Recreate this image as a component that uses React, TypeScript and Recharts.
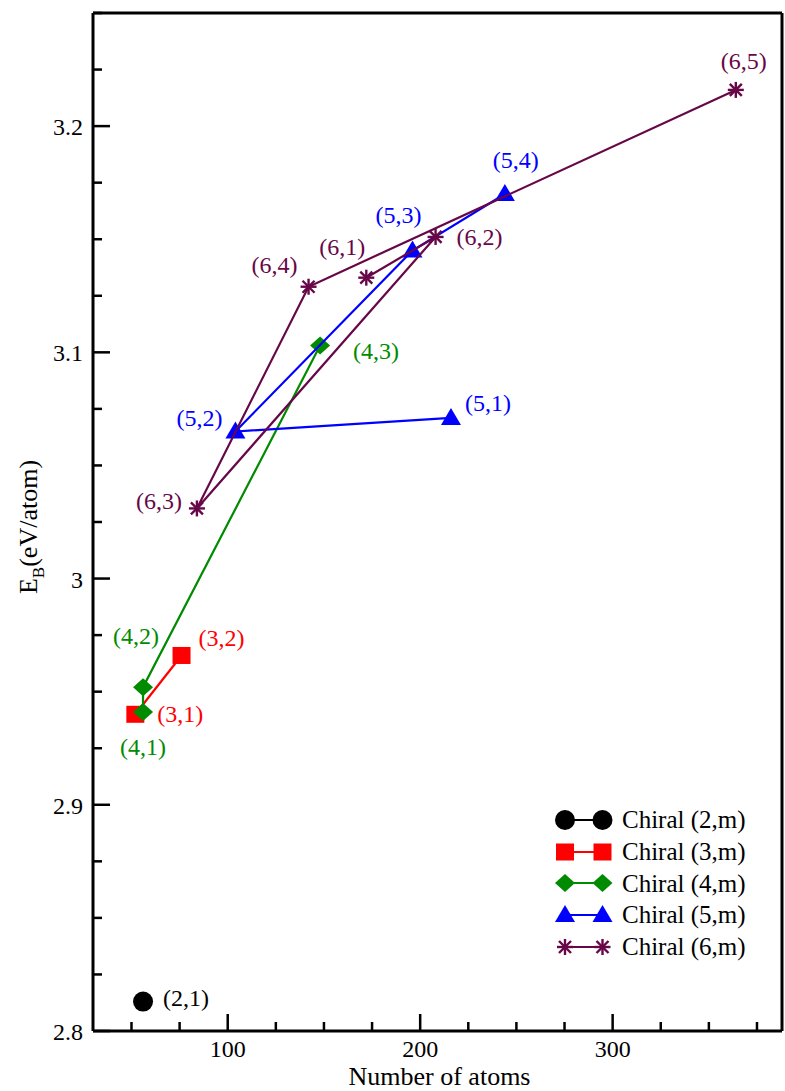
import { ScatterChart, Scatter, XAxis, YAxis, Legend } from "recharts";

const SERIF = "Liberation Serif, Tinos, Times New Roman, DejaVu Serif, serif";

// Chiral (2,m)
const names2 = ["(2,1)"];
const atoms2 = [56];
const eb2 = [2.813];
// Chiral (3,m)
const names3 = ["(3,1)", "(3,2)"];
const atoms3 = [52, 76];
const eb3 = [2.94, 2.966];
// Chiral (4,m)
const names4 = ["(4,1)", "(4,2)", "(4,3)"];
const atoms4 = [56, 56, 148];
const eb4 = [2.941, 2.952, 3.103];
// Chiral (5,m)
const names5 = ["(5,1)", "(5,2)", "(5,3)", "(5,4)"];
const atoms5 = [216, 104, 196, 244];
const eb5 = [3.071, 3.065, 3.145, 3.17];
// Chiral (6,m)
const names6 = ["(6,1)", "(6,2)", "(6,3)", "(6,4)", "(6,5)"];
const atoms6 = [172, 208, 84, 142, 364];
const eb6 = [3.133, 3.151, 3.031, 3.129, 3.216];

const seriesNames = ["Chiral (2,m)", "Chiral (3,m)", "Chiral (4,m)", "Chiral (5,m)", "Chiral (6,m)"];

const xTicks = [50, 75, 100, 125, 150, 175, 200, 225, 250, 275, 300, 325, 350, 375];
const xTickLabels: Record<number, string> = { 100: "100", 200: "200", 300: "300" };
const yTicks = [
  2.8, 2.825, 2.85, 2.875, 2.9, 2.925, 2.95, 2.975, 3.0, 3.025, 3.05, 3.075, 3.1, 3.125,
  3.15, 3.175, 3.2, 3.225, 3.25,
];
const yTickLabels = [
  { v: 2.8, t: "2.8" },
  { v: 2.9, t: "2.9" },
  { v: 3.0, t: "3" },
  { v: 3.1, t: "3.1" },
  { v: 3.2, t: "3.2" },
];

// where each point's tag sits relative to its marker: dx, dy, anchor
const LABEL_POS: Record<string, [number, number, string]> = {
  "(2,1)": [20, -4, "start"],
  "(3,1)": [22, 0, "start"],
  "(3,2)": [17, -17, "start"],
  "(4,1)": [0, 35, "middle"],
  "(4,2)": [-7, -51, "middle"],
  "(4,3)": [33, 5, "start"],
  "(5,1)": [14, -15, "start"],
  "(5,2)": [-13, -14, "end"],
  "(5,3)": [-14, -36, "middle"],
  "(5,4)": [11, -34, "middle"],
  "(6,1)": [-24, -31, "middle"],
  "(6,2)": [21, 0, "start"],
  "(6,3)": [-15, -7, "end"],
  "(6,4)": [-11, -22, "end"],
  "(6,5)": [8, -29, "middle"],
};

const toPoints = (names: string[], atoms: number[], eb: number[]) =>
  names.map((name, i) => ({ name, atoms: atoms[i], eb: eb[i] }));

const SERIES = [
  { name: seriesNames[0], kind: "circle", color: "#000000", line: false, data: toPoints(names2, atoms2, eb2) },
  { name: seriesNames[1], kind: "square", color: "#ff0000", line: true, data: toPoints(names3, atoms3, eb3) },
  { name: seriesNames[2], kind: "diamond", color: "#008b00", line: true, data: toPoints(names4, atoms4, eb4) },
  { name: seriesNames[3], kind: "triangle", color: "#0000ff", line: true, data: toPoints(names5, atoms5, eb5) },
  { name: seriesNames[4], kind: "star", color: "#670748", line: true, data: toPoints(names6, atoms6, eb6) },
];

const Mark = ({ kind, color, cx, cy }: any) => {
  switch (kind) {
    case "circle":
      return <circle cx={cx} cy={cy} r={10} fill={color} />;
    case "square":
      return <rect x={cx - 9} y={cy - 8.5} width={18} height={17} fill={color} />;
    case "diamond":
      return (
        <polygon
          points={`${cx - 10},${cy} ${cx},${cy - 9} ${cx + 10},${cy} ${cx},${cy + 9}`}
          fill={color}
        />
      );
    case "triangle":
      return (
        <polygon
          points={`${cx - 10},${cy + 7} ${cx + 10},${cy + 7} ${cx},${cy - 10}`}
          fill={color}
        />
      );
    default:
      return (
        <g stroke={color} strokeWidth={2.4}>
          <line x1={cx - 8} y1={cy} x2={cx + 8} y2={cy} />
          <line x1={cx} y1={cy - 8} x2={cx} y2={cy + 8} />
          <line x1={cx - 6} y1={cy - 6} x2={cx + 6} y2={cy + 6} />
          <line x1={cx - 6} y1={cy + 6} x2={cx + 6} y2={cy - 6} />
        </g>
      );
  }
};

const pointShape = (kind: string, color: string) => (props: any) => {
  const { cx, cy, payload } = props;
  const pos = LABEL_POS[payload.name] || [15, 0, "start"];
  return (
    <g>
      <Mark kind={kind} color={color} cx={cx} cy={cy} />
      <text
        x={cx + pos[0]}
        y={cy + pos[1]}
        textAnchor={pos[2]}
        dominantBaseline="central"
        fill={color}
        style={{ fontFamily: SERIF, fontSize: 24 }}
      >
        {payload.name}
      </text>
    </g>
  );
};

const near = (a: number, b: number) => Math.abs(a - b) < 1e-6;

const BottomTick = (props: any) => {
  const { x, y, payload } = props;
  const label = xTickLabels[payload.value];
  return (
    <g>
      <line x1={x} y1={y} x2={x} y2={y - (label ? 17 : 9)} stroke="#000" strokeWidth={2.5} />
      {label && (
        <text x={x} y={y + 26} textAnchor="middle" fill="#000" style={{ fontFamily: SERIF, fontSize: 24 }}>
          {label}
        </text>
      )}
    </g>
  );
};

const TopTick = (props: any) => {
  const { x, y, payload } = props;
  const major = xTickLabels[payload.value];
  return <line x1={x} y1={y} x2={x} y2={y + (major ? 17 : 9)} stroke="#000" strokeWidth={2.5} />;
};

const LeftTick = (props: any) => {
  const { x, y, payload } = props;
  const lab = yTickLabels.find((l) => near(l.v, payload.value));
  return (
    <g>
      <line x1={x} y1={y} x2={x + (lab ? 17 : 9)} y2={y} stroke="#000" strokeWidth={2.5} />
      {lab && (
        <text
          x={x - 10}
          y={y + 1}
          textAnchor="end"
          dominantBaseline="central"
          fill="#000"
          style={{ fontFamily: SERIF, fontSize: 24 }}
        >
          {lab.t}
        </text>
      )}
    </g>
  );
};

const RightTick = (props: any) => {
  const { x, y, payload } = props;
  const major = yTickLabels.some((l) => near(l.v, payload.value));
  return <line x1={x} y1={y} x2={x - (major ? 17 : 9)} y2={y} stroke="#000" strokeWidth={2.5} />;
};

const XTitle = ({ viewBox }: any) => (
  <text
    x={viewBox.x + viewBox.width / 2 + 2}
    y={viewBox.y + 54}
    textAnchor="middle"
    fill="#000"
    style={{ fontFamily: SERIF, fontSize: 26 }}
  >
    Number of atoms
  </text>
);

const YTitle = ({ viewBox }: any) => {
  const cx = 37;
  const cy = viewBox.y + viewBox.height / 2 + 5;
  return (
    <text
      x={cx}
      y={cy}
      transform={`rotate(-90, ${cx}, ${cy})`}
      textAnchor="middle"
      fill="#000"
      style={{ fontFamily: SERIF, fontSize: 26 }}
    >
      E
      <tspan dy={7} style={{ fontSize: 17 }}>
        B
      </tspan>
      <tspan dy={-7}>(eV/atom)</tspan>
    </text>
  );
};

const LegendBox = () => (
  <div style={{ fontFamily: SERIF, fontSize: 25, color: "#000" }}>
    {SERIES.map((s) => (
      <div key={s.name} style={{ display: "flex", alignItems: "center", height: 31.7 }}>
        <svg width={62} height={26} style={{ display: "block" }}>
          <line x1={12} y1={13} x2={49.5} y2={13} stroke={s.color} strokeWidth={2} />
          <Mark kind={s.kind} color={s.color} cx={12} cy={13} />
          <Mark kind={s.kind} color={s.color} cx={49.5} cy={13} />
        </svg>
        <span style={{ marginLeft: 7, lineHeight: 1, whiteSpace: "nowrap" }}>{s.name}</span>
      </div>
    ))}
  </div>
);

export default function App() {
  return (
    <div style={{ position: "absolute", left: 0, top: 0, background: "#fff", fontFamily: SERIF }}>
      <ScatterChart width={785} height={1091} margin={{ top: 0, right: 0, bottom: 0, left: 0 }}>
        <XAxis
          type="number"
          dataKey="atoms"
          domain={[30, 388]}
          ticks={xTicks}
          interval={0}
          height={60}
          tickSize={0}
          tickMargin={0}
          tickLine={false}
          axisLine={{ stroke: "#000", strokeWidth: 3 }}
          tick={<BottomTick />}
          label={<XTitle />}
        />
        <XAxis
          xAxisId="top"
          orientation="top"
          type="number"
          domain={[30, 388]}
          ticks={xTicks}
          interval={0}
          height={13}
          tickSize={0}
          tickMargin={0}
          tickLine={false}
          axisLine={{ stroke: "#000", strokeWidth: 3 }}
          tick={<TopTick />}
        />
        <YAxis
          type="number"
          dataKey="eb"
          domain={[2.8, 3.25]}
          ticks={yTicks}
          interval={0}
          width={93}
          tickSize={0}
          tickMargin={0}
          tickLine={false}
          axisLine={{ stroke: "#000", strokeWidth: 3 }}
          tick={<LeftTick />}
          label={<YTitle />}
        />
        <YAxis
          yAxisId="right"
          orientation="right"
          type="number"
          domain={[2.8, 3.25]}
          ticks={yTicks}
          interval={0}
          width={3}
          tickSize={0}
          tickMargin={0}
          tickLine={false}
          axisLine={{ stroke: "#000", strokeWidth: 3 }}
          tick={<RightTick />}
        />
        <Legend
          layout="vertical"
          align="center"
          verticalAlign="middle"
          content={<LegendBox />}
          wrapperStyle={{ left: 553, top: 804, width: 230 }}
        />
        {SERIES.map((s) => (
          <Scatter
            key={s.name}
            name={s.name}
            data={s.data}
            fill={s.color}
            line={s.line ? { stroke: s.color, strokeWidth: 2.2 } : false}
            lineType="joint"
            shape={pointShape(s.kind, s.color)}
            isAnimationActive={false}
          />
        ))}
      </ScatterChart>
    </div>
  );
}
